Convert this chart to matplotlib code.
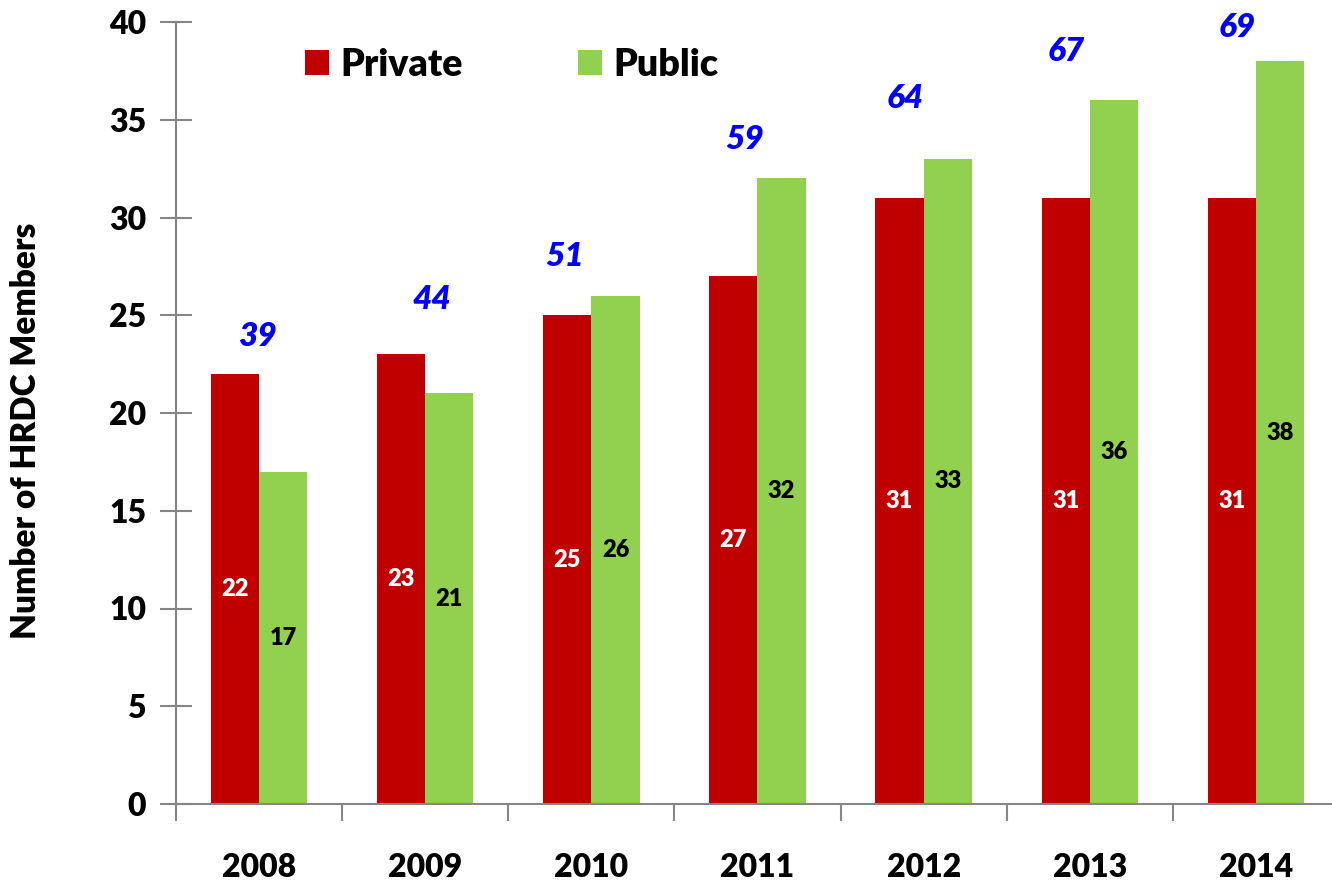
import matplotlib
matplotlib.use("Agg")
import matplotlib.pyplot as plt
import numpy as np

years = ["2008", "2009", "2010", "2011", "2012", "2013", "2014"]
private = [22, 23, 25, 27, 31, 31, 31]
public = [17, 21, 26, 32, 33, 36, 38]
totals = [39, 44, 51, 59, 64, 67, 69]

plt.rcParams['font.family'] = ['Lato', 'DejaVu Sans']
W = 'heavy'

fig = plt.figure(figsize=(13.32, 8.81), dpi=100)
ax = fig.add_axes([176/1332, 77/881, 1163/1332, 782/881])

x = np.arange(len(years))
w = 0.29
red = "#C00000"
green = "#92D050"
ax.bar(x - w/2, private, w, color=red, label="Private")
ax.bar(x + w/2, public, w, color=green, label="Public")

for xi, v in zip(x, private):
    ax.text(xi - w/2, v/2, str(v), ha='center', va='center', color='white',
            fontsize=17, fontweight=W)
for xi, v in zip(x, public):
    ax.text(xi + w/2, v/2, str(v), ha='center', va='center', color='black',
            fontsize=17, fontweight=W)

# total label placement (layout)
tot_y = [23.9, 25.8, 28.0, 34.0, 36.1, 38.5, 39.7]
tot_dx = [-0.01, 0.04, -0.16, -0.08, -0.11, -0.14, -0.11]
for xi, t, ty, dx in zip(x, totals, tot_y, tot_dx):
    ax.text(xi + dx, ty, str(t), ha='center', va='center', color='#0000FF',
            fontsize=24, fontweight=W, fontstyle='italic', clip_on=False)

ax.set_xlim(-0.5, 6.5)
ax.set_ylim(0, 40)
ax.set_yticks(range(0, 41, 5))
ax.set_xticks(np.arange(-0.5, 7, 1))
ax.set_xticklabels([])
ax.set_xticks(x, minor=True)
ax.set_xticklabels(years, minor=True)
ax.tick_params(axis='x', which='minor', length=0, pad=35, labelsize=23)
ax.tick_params(axis='x', which='major', length=12, width=1.5, color='#868686', direction='out')
ax.tick_params(axis='y', length=23, width=1.5, color='#868686', direction='inout', labelsize=23, pad=10)
for lab in ax.get_xticklabels(minor=True) + ax.get_yticklabels():
    lab.set_fontweight(W)

for s in ['top', 'right']:
    ax.spines[s].set_visible(False)
for s in ['left', 'bottom']:
    ax.spines[s].set_color('#868686')
    ax.spines[s].set_linewidth(1.5)
ax.spines['left'].set_bounds(0, 40)

ax.set_ylabel("Number of HRDC Members", fontsize=24, fontweight=W)
ax.yaxis.set_label_coords(-134/1163, 0.477)

leg = ax.legend(loc='upper left', bbox_to_anchor=(0.082, 1.01), ncol=2, frameon=False,
                handlelength=0.65, handleheight=0.65, columnspacing=3.05,
                handletextpad=0.3, prop={'weight': W, 'size': 27})

fig.savefig("out.png", dpi=100)
